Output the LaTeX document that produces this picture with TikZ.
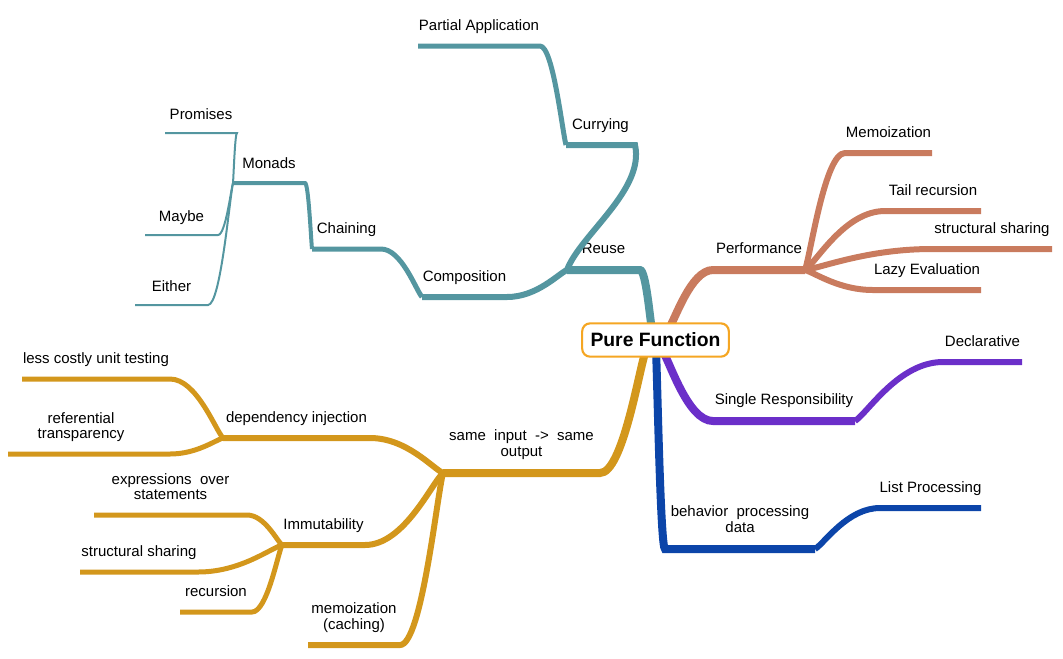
\documentclass[tikz,border=0pt]{standalone}
\usepackage{fontspec}
\setmainfont{Liberation Sans}
\usetikzlibrary{calc}
\definecolor{cteal}{HTML}{5496A0}
\definecolor{corange}{HTML}{C97B5E}
\definecolor{cgold}{HTML}{D3971C}
\definecolor{cpurple}{HTML}{6B2FC9}
\definecolor{cblue}{HTML}{0C45A9}
\definecolor{cborder}{HTML}{F5A623}
\begin{document}
\begin{tikzpicture}[x=0.75pt,y=-0.75pt,
 branch/.style={to path={.. controls ($(\tikztostart)!0.15!(\tikztotarget)$) and ($(\tikztotarget)!0.5!(\tikztostart|-\tikztotarget)$) .. (\tikztotarget)}},
 wA/.style={line width=6pt},
 wB/.style={line width=4.5pt},
 wC/.style={line width=3.75pt},
 wD/.style={line width=3pt},
 wE/.style={line width=1.5pt},
 lbl/.style={midway, anchor=south, inner sep=0pt, text depth=0.25em, yshift=7pt, align=center, font=\fontsize{11.25}{11.8}\selectfont},
 ]
\useasboundingbox (0,0) rectangle (1063,658);

% ---------- coordinates ----------
\coordinate (cT) at (652,330);
\coordinate (cO) at (668,330);
\coordinate (cP) at (662,350);
\coordinate (cB) at (656,350);
\coordinate (cG) at (646,350);
% teal
\coordinate (reuseR) at (640,270); \coordinate (reuseL) at (567,270);
\coordinate (curR) at (635,145);   \coordinate (curL) at (566,145);
\coordinate (paR) at (540,46);     \coordinate (paL) at (418,46);
\coordinate (compR) at (507,297);  \coordinate (compL) at (422,297);
\coordinate (chainR) at (381,249); \coordinate (chainL) at (312,249);
\coordinate (monR) at (305,183);   \coordinate (monL) at (233,183);
\coordinate (proR) at (237,133);   \coordinate (proL) at (165,133);
\coordinate (mayR) at (218,235);   \coordinate (mayL) at (145,235);
\coordinate (eitR) at (208,305);   \coordinate (eitL) at (135,305);
% orange
\coordinate (perfL) at (713,270);  \coordinate (perfR) at (805,270);
\coordinate (memoL) at (845,153);  \coordinate (memoR) at (932,153);
\coordinate (tailL) at (885,211);  \coordinate (tailR) at (981,211);
\coordinate (ssL) at (932,249);    \coordinate (ssR) at (1052,249);
\coordinate (lazyL) at (873,290);  \coordinate (lazyR) at (981,290);
% purple
\coordinate (srL) at (713,421);    \coordinate (srR) at (855,421);
\coordinate (decL) at (943,362);   \coordinate (decR) at (1022,362);
% blue
\coordinate (bpL) at (665,549);    \coordinate (bpR) at (815,549);
\coordinate (lpL) at (880,508);    \coordinate (lpR) at (981,508);
% gold
\coordinate (siL) at (443,473);    \coordinate (siR) at (600,473);
\coordinate (diL) at (223,438);    \coordinate (diR) at (370,438);
\coordinate (imL) at (282,545);    \coordinate (imR) at (365,545);
\coordinate (meL) at (308,645);    \coordinate (meR) at (400,645);
\coordinate (lcL) at (22,379);     \coordinate (lcR) at (170,379);
\coordinate (rtL) at (8,454);      \coordinate (rtR) at (170,454);
\coordinate (exL) at (94,515);     \coordinate (exR) at (247,515);
\coordinate (sgL) at (80,572);     \coordinate (sgR) at (198,572);
\coordinate (rcL) at (180,612);    \coordinate (rcR) at (252,612);

% ---------- teal branch ----------
\begin{scope}[draw=cteal]
\draw[wA] (cT) to[branch] (reuseR) -- (reuseL) node[lbl] (reuse) {Reuse};
\draw[wB] (reuseL) .. controls (580,235) and (645,190) .. (curR) -- (curL) node[lbl] (cur) {Currying};
\draw[wC] (curL) to[branch] (paR) -- (paL) node[lbl] (pa) {Partial Application};
\draw[wB] (reuseL) to[branch] (compR) -- (compL) node[lbl] (comp) {Composition};
\draw[wC] (compL) to[branch] (chainR) -- (chainL) node[lbl] (chain) {Chaining};
\draw[wD] (chainL) to[branch] (monR) -- (monL) node[lbl] (mon) {Monads};
\draw[wE] (monL) to[branch] (proR) -- (proL) node[lbl] (pro) {Promises};
\draw[wE] (monL) to[branch] (mayR) -- (mayL) node[lbl] (may) {Maybe};
\draw[wE] (monL) to[branch] (eitR) -- (eitL) node[lbl] (eit) {Either};
\end{scope}

% ---------- orange branch ----------
\begin{scope}[draw=corange]
\draw[wA] (cO) to[branch] (perfL) -- (perfR) node[lbl] (perf) {Performance};
\draw[wB] (perfR) to[branch] (memoL) -- (memoR) node[lbl] (memo) {Memoization};
\draw[wB] (perfR) to[branch] (tailL) -- (tailR) node[lbl] (tail) {Tail recursion};
\draw[wB] (perfR) to[branch] (ssL) -- (ssR) node[lbl] (ss) {structural sharing};
\draw[wB] (perfR) to[branch] (lazyL) -- (lazyR) node[lbl] (lazy) {Lazy Evaluation};
\end{scope}

% ---------- purple branch ----------
\begin{scope}[draw=cpurple]
\draw[wA] (cP) to[branch] (srL) -- (srR) node[lbl] (sr) {Single Responsibility};
\draw[wB] (srR) to[branch] (decL) -- (decR) node[lbl] (dec) {Declarative};
\end{scope}

% ---------- blue branch ----------
\begin{scope}[draw=cblue]
\draw[wA] (cB) to[branch] (bpL) -- (bpR) node[lbl] (bp) {behavior\ \ processing\\data};
\draw[wB] (bpR) to[branch] (lpL) -- (lpR) node[lbl] (lp) {List Processing};
\end{scope}

% ---------- gold branch ----------
\begin{scope}[draw=cgold]
\draw[wA] (cG) to[branch] (siR) -- (siL) node[lbl] (si) {same\ \ input\ \ ->\ \ same\\output};
\draw[wB] (siL) to[branch] (diR) -- (diL) node[lbl] (di) {dependency injection};
\draw[wC] (diL) to[branch] (lcR) -- (lcL) node[lbl] (lc) {less costly unit testing};
\draw[wC] (diL) to[branch] (rtR) -- (rtL) node[lbl, xshift=-6pt] (rt) {referential\\transparency};
\draw[wB] (siL) to[branch] (imR) -- (imL) node[lbl] (im) {Immutability};
\draw[wC] (imL) to[branch] (exR) -- (exL) node[lbl] (ex) {expressions\ \ over\\statements};
\draw[wC] (imL) to[branch] (sgR) -- (sgL) node[lbl] (sg) {structural sharing};
\draw[wC] (imL) to[branch] (rcR) -- (rcL) node[lbl] (rc) {recursion};
\draw[wB] (siL) to[branch] (meR) -- (meL) node[lbl] (me) {memoization\\(caching)};
\end{scope}

% ---------- centre ----------
\node[draw=cborder, line width=1.6pt, rounded corners=6pt, fill=white,
      minimum width=110pt, minimum height=25pt, inner sep=0pt,
      font=\bfseries\fontsize{14.5}{16}\selectfont] (pf) at (655.5,340) {Pure Function};
\end{tikzpicture}
\end{document}
